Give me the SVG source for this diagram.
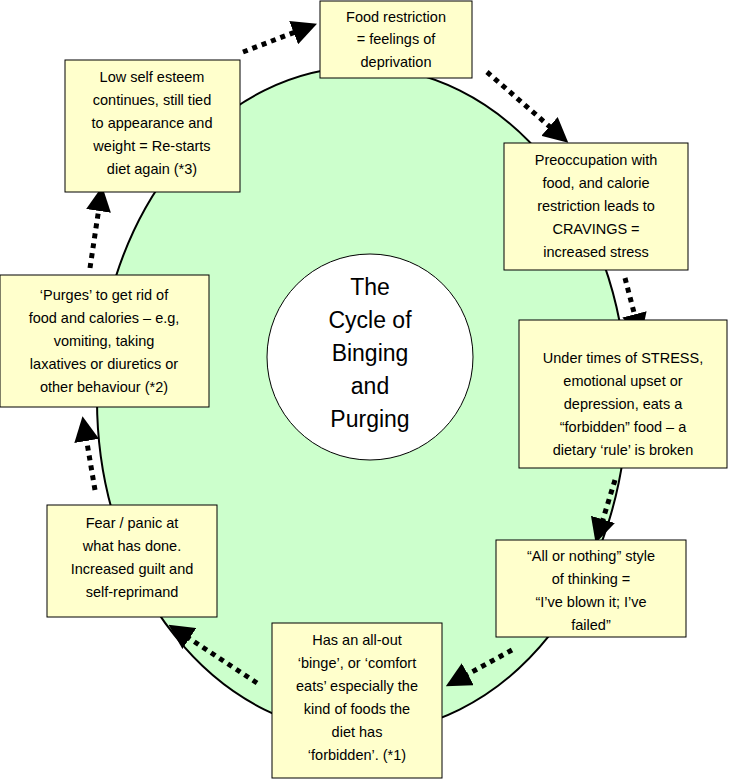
<svg xmlns="http://www.w3.org/2000/svg" width="731" height="783" viewBox="0 0 731 783">
<style>
.box{fill:#ffffcc;stroke:#000;stroke-width:1}
.t{font-family:"Comic Sans MS","Liberation Sans",sans-serif;font-size:14.5px;text-anchor:middle;fill:#000}
.c{font-family:"Comic Sans MS","Liberation Sans",sans-serif;font-size:23px;text-anchor:middle;fill:#000}
.a{stroke:#000;stroke-width:5;stroke-dasharray:5 5;fill:none;marker-end:url(#ah)}
</style>
<defs><marker id="ah" markerWidth="5" markerHeight="5" refX="2" refY="2.5" orient="auto"><path d="M0,0L5,2.5L0,5z" fill="#000"/></marker></defs>
<rect width="731" height="783" fill="#fff"/>
<ellipse cx="362" cy="400" rx="265" ry="333" fill="#ccffcc" stroke="#000" stroke-width="2"/>
<g id="center"><circle cx="370" cy="357" r="103" fill="#fff" stroke="#000"/>
<text class="c" x="370" y="295">The</text><text class="c" x="370" y="328">Cycle of</text><text class="c" x="370" y="361">Binging</text><text class="c" x="370" y="394">and</text><text class="c" x="370" y="427">Purging</text></g>
<g id="connectors">
<path class="a" d="M243,52L303,29"/>
<path class="a" d="M487,72L557,133"/>
<path class="a" d="M625,278L637,324"/>
<path class="a" d="M615,480L600,529"/>
<path class="a" d="M512,650L459,679"/>
<path class="a" d="M257,683L181,633"/>
<path class="a" d="M95,490L85,431"/>
<path class="a" d="M90,268L100,201"/>
</g>
<g id="n1"><rect class="box" x="320" y="1" width="152" height="77"/><text class="t" x="396" y="22">Food restriction</text><text class="t" x="396" y="44">= feelings of</text><text class="t" x="396" y="67">deprivation</text></g>
<g id="n2"><rect class="box" x="504" y="143" width="184" height="127"/><text class="t" x="596" y="165">Preoccupation with</text><text class="t" x="596" y="188">food, and calorie</text><text class="t" x="596" y="211">restriction leads to</text><text class="t" x="596" y="234">CRAVINGS =</text><text class="t" x="596" y="257">increased stress</text></g>
<g id="n3"><rect class="box" x="519" y="320" width="208" height="148"/><text class="t" x="623" y="363">Under times of STRESS,</text><text class="t" x="623" y="386">emotional upset or</text><text class="t" x="623" y="409">depression, eats a</text><text class="t" x="623" y="432">“forbidden” food – a</text><text class="t" x="623" y="455">dietary ‘rule’ is broken</text></g>
<g id="n4"><rect class="box" x="496" y="540" width="190" height="97"/><text class="t" x="591" y="561">“All or nothing” style</text><text class="t" x="591" y="584">of thinking =</text><text class="t" x="591" y="607">“I’ve blown it; I’ve</text><text class="t" x="591" y="630">failed”</text></g>
<g id="n5"><rect class="box" x="272" y="623" width="170" height="155"/><text class="t" x="357" y="645">Has an all-out</text><text class="t" x="357" y="668">‘binge’, or ‘comfort</text><text class="t" x="357" y="691">eats’ especially the</text><text class="t" x="357" y="714">kind of foods the</text><text class="t" x="357" y="737">diet has</text><text class="t" x="357" y="760">‘forbidden’. (*1)</text></g>
<g id="n6"><rect class="box" x="47" y="505" width="170" height="112"/><text class="t" x="132" y="528">Fear / panic at</text><text class="t" x="132" y="551">what has done.</text><text class="t" x="132" y="574">Increased guilt and</text><text class="t" x="132" y="597">self-reprimand</text></g>
<g id="n7"><rect class="box" x="0" y="275" width="209" height="132"/><text class="t" x="104" y="300">‘Purges’ to get rid of</text><text class="t" x="104" y="323">food and calories – e.g,</text><text class="t" x="104" y="346">vomiting, taking</text><text class="t" x="104" y="369">laxatives or diuretics or</text><text class="t" x="104" y="392">other behaviour (*2)</text></g>
<g id="n8"><rect class="box" x="65" y="60" width="175" height="132"/><text class="t" x="152" y="82">Low self esteem</text><text class="t" x="152" y="105">continues, still tied</text><text class="t" x="152" y="128">to appearance and</text><text class="t" x="152" y="151">weight = Re-starts</text><text class="t" x="152" y="174">diet again (*3)</text></g>
</svg>
